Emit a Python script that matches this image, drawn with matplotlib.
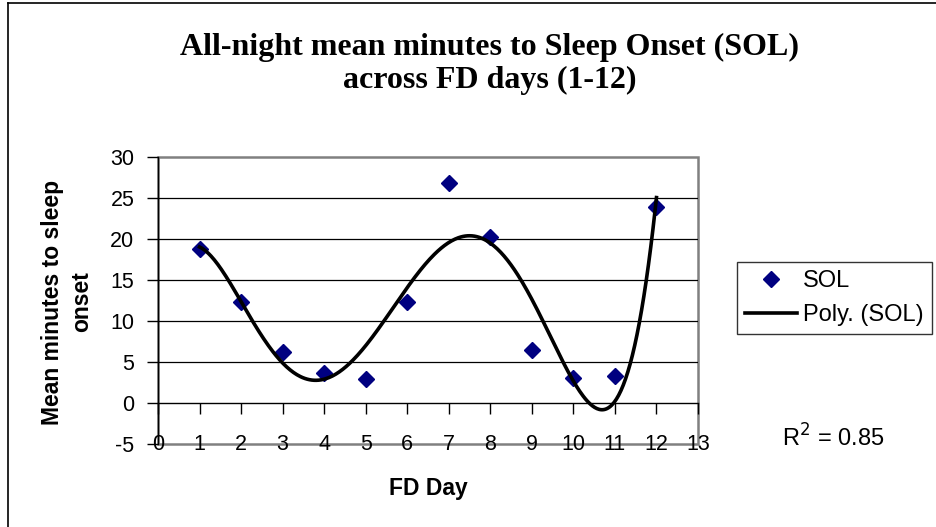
import matplotlib.pyplot as plt
import numpy as np
from matplotlib.lines import Line2D
from matplotlib.patches import Rectangle

plt.rcParams['axes.unicode_minus'] = False

fd_day = [1, 2, 3, 4, 5, 6, 7, 8, 9, 10, 11, 12]
sol = [18.8, 12.3, 6.2, 3.7, 2.9, 12.3, 26.8, 20.2, 6.5, 3.0, 3.3, 23.9]
x_ticks = list(range(0, 14))
y_ticks = list(range(-5, 31, 5))
poly_order = 5

# Excel style polynomial trend line
coef = np.polyfit(fd_day, sol, poly_order)
xs = np.linspace(fd_day[0], fd_day[-1], 400)
ys = np.polyval(coef, xs)
pred = np.polyval(coef, fd_day)
r2 = 1 - np.sum((np.array(sol) - pred) ** 2) / np.sum((np.array(sol) - np.mean(sol)) ** 2)

W, H = 937, 527
fig = plt.figure(figsize=(W / 100, H / 100), dpi=100)
ax = fig.add_axes([158 / W, 1 - 444 / H, 540 / W, 287 / H])

ax.set_xlim(0, 13)
ax.set_ylim(-5, 30)
ax.set_xticks(x_ticks)
ax.set_yticks(y_ticks)

for y in [5, 10, 15, 20, 25]:
    ax.axhline(y, color='black', lw=0.9, zorder=1)

for s in ['top', 'right']:
    ax.spines[s].set_visible(False)
ax.spines['bottom'].set_position(('data', 0))
ax.spines['bottom'].set_linewidth(1.0)
ax.spines['left'].set_linewidth(1.0)
ax.add_patch(Rectangle((0, 0), 1, 1, transform=ax.transAxes, fill=False,
                       edgecolor='#808080', lw=1.8, clip_on=False, zorder=0))

ax.tick_params(axis='x', direction='out', length=8, width=1, pad=14,
               labelsize=15.5)
ax.tick_params(axis='y', direction='out', length=8, width=1, pad=9,
               labelsize=15.5)
for lab in ax.get_xticklabels() + ax.get_yticklabels():
    lab.set_family('Liberation Sans')

ax.plot(fd_day, sol, linestyle='none', marker='D', markersize=8.5,
        color='#000080', label='SOL', zorder=3)
ax.plot(xs, ys, color='black', lw=2.6, label='Poly. (SOL)', zorder=4)

ax.set_xlabel('FD Day', fontsize=16.5, fontweight='bold', family='Liberation Sans',
              labelpad=16)
fig.text(67 / W, 1 - 302 / H, 'Mean minutes to sleep\nonset', rotation=90,
         ha='center', va='center', fontsize=16.5, fontweight='bold',
         family='Liberation Sans', linespacing=1.35)

fig.text(490 / W, 1 - 64 / H, 'All-night mean minutes to Sleep Onset (SOL)\nacross FD days (1-12)',
         ha='center', va='center', fontsize=23, fontweight='bold',
         family='Liberation Serif', linespacing=1.15)

fig.text(782 / W, 1 - 438 / H, f'R$^2$ = {r2:.2f}', ha='left', va='center',
         fontsize=17, family='Liberation Sans')

leg = fig.legend(loc='upper left', bbox_to_anchor=(737 / W, 1 - 262 / H),
                 prop={'family': 'Liberation Sans', 'size': 17},
                 frameon=True, fancybox=False, borderpad=0.35,
                 handlelength=2.2, handletextpad=0.25, labelspacing=0.5,
                 borderaxespad=0)
leg.get_frame().set_edgecolor('black')
leg.get_frame().set_linewidth(1.0)

# outer chart frame
fig.add_artist(Line2D([8 / W, 8 / W], [0, 1 - 3 / H], color='black', lw=1.2))
fig.add_artist(Line2D([8 / W, 1], [1 - 3 / H, 1 - 3 / H], color='black', lw=1.2))

fig.savefig('out.png', dpi=100)
